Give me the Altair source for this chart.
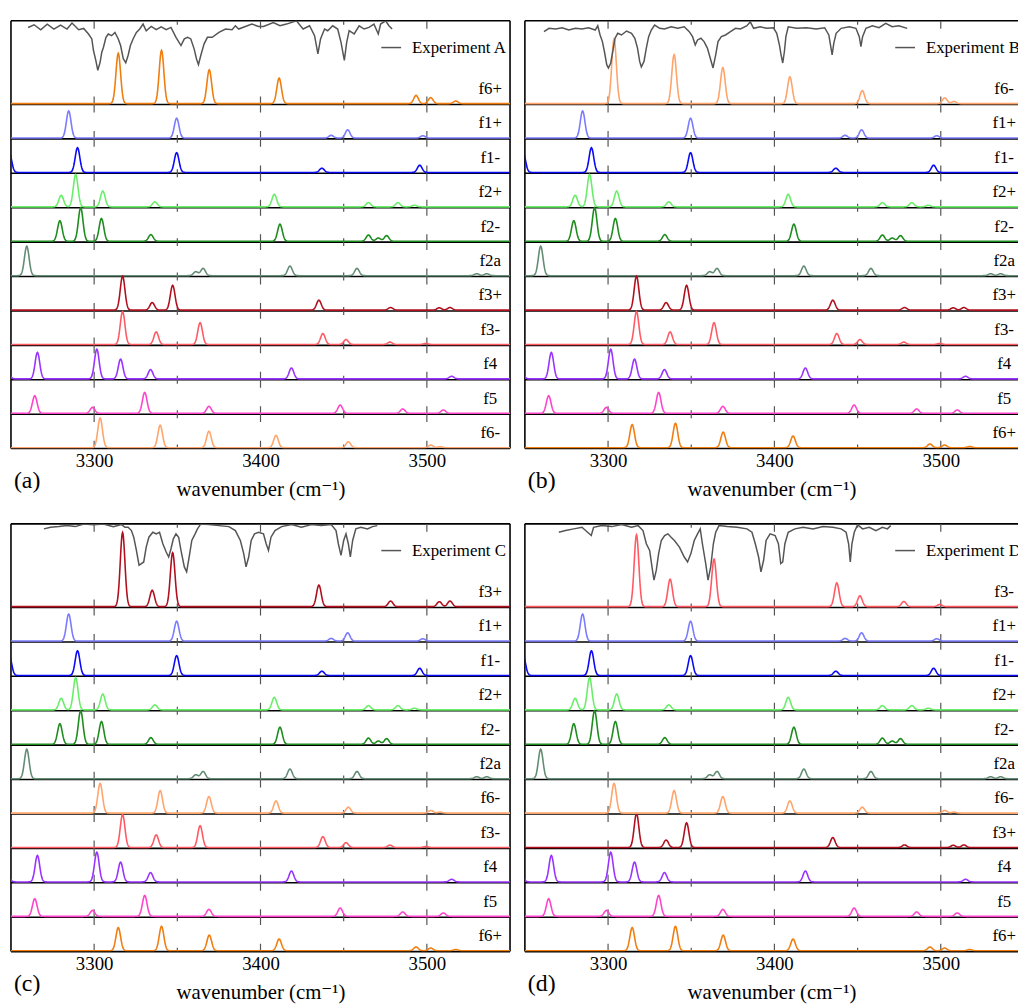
import altair as alt
import numpy as np
import pandas as pd

FONT = "Liberation Serif, Times New Roman, DejaVu Serif, serif"

# ---- spectra (peak positions in cm-1, intensities in arbitrary units) ----
SPECTRA = ["f6+", "f1+", "f1-", "f2+", "f2-", "f2a", "f3+", "f3-", "f4", "f5", "f6-"]
COLORS = ["#f07d0f", "#7b7bff", "#0a0af5", "#6aee6a", "#1e8c1e", "#638c74",
          "#b0101e", "#ff5a64", "#9933ff", "#ff44cc", "#ffa46b"]

PEAK_POS = {
    "f6+": [3314.5, 3340.5, 3369.2, 3411.2, 3493.5, 3502.3, 3517.4],
    "f1+": [3284.7, 3349.6, 3442.5, 3452.4, 3497.6],
    "f1-": [3249.0, 3290.0, 3349.6, 3436.9, 3495.7],
    "f2+": [3280.2, 3288.9, 3305.2, 3336.5, 3408.3, 3464.9, 3482.6, 3492.5],
    "f2-": [3279.4, 3291.9, 3304.4, 3334.1, 3411.7, 3464.9, 3470.8, 3475.8],
    "f2a": [3259.5, 3361.1, 3365.5, 3417.7, 3458.0, 3530.0, 3536.0],
    "f3+": [3317.1, 3334.9, 3347.2, 3435.1, 3478.2, 3507.5, 3513.9],
    "f3-": [3317.1, 3337.3, 3363.7, 3437.5, 3451.4, 3477.8, 3499.4],
    "f4":  [3248.0, 3265.9, 3301.6, 3315.9, 3333.9, 3418.6, 3514.9],
    "f5":  [3264.3, 3299.0, 3330.4, 3369.0, 3447.9, 3485.5, 3509.9],
    "f6-": [3303.6, 3339.7, 3369.0, 3409.3, 3452.8, 3502.4, 3507.9],
}
PEAK_INT = {
    "f6+": [23.3, 24.7, 15.7, 11.8, 3.8, 2.8, 1.2],
    "f1+": [27.3, 20.0, 2.7, 8.3, 2.3],
    "f1-": [20.0, 25.0, 20.0, 4.3, 7.3],
    "f2+": [11.7, 32.7, 16.0, 5.0, 12.7, 4.3, 4.3, 1.7],
    "f2-": [20.7, 34.0, 23.0, 6.7, 17.3, 6.3, 3.3, 5.7],
    "f2a": [29.7, 4.0, 7.3, 9.7, 7.3, 2.0, 2.0],
    "f3+": [34.3, 7.6, 25.0, 10.0, 2.6, 2.3, 2.6],
    "f3-": [33.3, 12.7, 22.0, 11.0, 5.0, 2.4, 1.0],
    "f4":  [6.0, 26.7, 30.0, 20.0, 9.4, 11.0, 2.7],
    "f5":  [17.7, 6.0, 21.0, 7.0, 8.4, 4.4, 3.4],
    "f6-": [30.0, 22.7, 16.7, 12.4, 6.0, 2.7, 1.0],
}
LINE_SIGMA = 1.4  # gaussian broadening (cm-1)

# ---- panel orders (top row first) ----
ORDER_A = ["f6+", "f1+", "f1-", "f2+", "f2-", "f2a", "f3+", "f3-", "f4", "f5", "f6-"]
ORDER_B = ["f6-", "f1+", "f1-", "f2+", "f2-", "f2a", "f3+", "f3-", "f4", "f5", "f6+"]
ORDER_C = ["f3+", "f1+", "f1-", "f2+", "f2-", "f2a", "f6-", "f3-", "f4", "f5", "f6+"]
ORDER_D = ["f3-", "f1+", "f1-", "f2+", "f2-", "f2a", "f6-", "f3+", "f4", "f5", "f6+"]

# ---- experimental traces (wavenumber, signal in arbitrary units) ----
EXP_A_W = [3260.3,3263.9,3267.9,3271.8,3275.8,3279.8,3283.7,3286.7,3290.7,3293.7,
           3296.6,3298.6,3299.6,3301.0,3302.2,3303.6,3304.6,3305.6,3307.1,3308.5,
           3310.5,3312.5,3314.5,3315.9,3317.5,3319.0,3320.4,3321.8,3323.4,3325.4,
           3327.4,3329.4,3331.3,3334.3,3337.3,3340.3,3343.3,3346.2,3349.2,3352.2,
           3354.2,3356.2,3358.1,3360.1,3361.5,3362.7,3364.1,3366.1,3368.1,3371.0,
           3375.0,3379.0,3382.9,3384.9,3386.9,3390.9,3394.8,3398.8,3401.8,3407.7,
           3411.7,3415.6,3421.6,3425.6,3429.5,3432.5,3434.5,3436.1,3438.5,3440.4,
           3443.4,3446.4,3448.4,3450.4,3451.8,3453.3,3456.3,3459.3,3462.3,3465.2,
           3468.2,3470.8,3472.2,3475.2,3477.2,3479.1]
EXP_A_T = [77.8,80.5,75.5,81.2,76.2,80.2,76.2,82.2,75.5,76.8,
           71.2,66.2,54.5,44.5,34.5,42.8,52.8,57.8,67.8,71.2,
           69.5,72.8,66.2,59.5,46.2,42.2,49.5,59.5,66.2,72.8,
           76.2,81.2,74.5,78.8,75.5,78.5,75.5,77.8,67.8,59.5,
           66.2,67.8,66.2,56.2,46.2,40.2,49.5,61.2,67.8,67.8,
           72.8,76.2,75.5,79.5,76.2,78.8,81.2,78.8,78.8,82.8,
           79.5,81.2,84.5,76.2,79.5,69.5,51.2,66.2,76.2,74.5,
           79.5,76.2,62.8,44.5,62.8,74.5,71.2,79.5,76.2,77.8,
           81.2,71.2,81.2,84.5,79.5,76.2]

EXP_B_W = [3261.5,3264.5,3268.5,3272.4,3276.4,3280.4,3284.3,3288.3,3292.3,3293.8,
           3295.2,3296.6,3297.8,3299.2,3300.2,3301.6,3302.8,3304.2,3305.8,3308.1,
           3311.1,3314.1,3316.1,3317.7,3319.0,3320.0,3321.6,3323.0,3324.4,3326.0,
           3328.0,3331.0,3333.9,3337.9,3341.9,3345.8,3348.8,3350.8,3352.4,3353.8,
           3355.8,3357.7,3359.7,3361.7,3363.1,3364.7,3366.1,3368.1,3370.6,3373.6,
           3376.6,3379.6,3383.5,3385.5,3387.5,3391.5,3395.4,3399.4,3401.4,3403.0,
           3404.0,3405.0,3406.0,3406.9,3408.3,3413.3,3419.2,3425.2,3430.2,3432.7,
           3433.7,3434.7,3435.7,3437.1,3440.1,3445.0,3449.0,3451.0,3452.0,3453.0,
           3455.0,3458.9,3462.9,3466.9,3470.8,3474.8,3479.8]
EXP_B_T = [73.5,76.9,76.2,77.5,75.2,76.9,76.2,77.5,75.2,79.5,
           70.2,63.5,53.5,40.2,36.9,41.9,53.5,66.9,71.9,70.2,
           74.2,71.9,66.9,56.9,43.5,37.9,43.5,56.9,68.5,75.2,
           80.2,76.9,76.2,78.5,76.9,78.5,73.5,68.5,60.2,65.2,
           66.9,63.5,56.9,45.2,36.9,50.2,63.5,68.5,70.2,73.5,
           76.9,76.2,79.5,83.5,76.9,78.5,76.9,77.5,71.9,60.2,
           50.2,41.9,53.5,68.5,78.5,76.9,77.5,76.2,77.5,70.2,
           60.2,50.2,61.9,71.9,76.9,78.5,76.9,68.5,58.5,68.5,
           76.9,79.5,77.5,81.9,78.5,79.5,76.9]

EXP_C_W = [3269.8,3273.8,3278.8,3283.7,3288.7,3293.7,3299.6,3305.6,3311.5,3316.5,
           3318.5,3320.4,3322.4,3323.8,3325.4,3327.0,3328.4,3329.8,3331.3,3332.9,
           3335.3,3337.3,3339.3,3341.3,3343.3,3344.8,3346.2,3347.6,3349.2,3350.8,
           3352.2,3354.2,3355.6,3357.1,3358.7,3360.7,3362.1,3364.1,3369.0,3375.0,
           3381.0,3384.9,3387.9,3389.9,3391.3,3392.9,3394.4,3396.4,3398.8,3401.8,
           3403.4,3404.8,3406.3,3408.7,3412.7,3418.7,3424.6,3430.6,3436.5,3442.5,
           3445.4,3446.8,3448.4,3450.0,3451.4,3452.8,3454.0,3455.4,3457.3,3460.3,
           3464.3,3467.3,3470.2]
EXP_C_T = [79.4,81.0,81.7,82.7,81.7,84.4,83.7,84.4,81.7,83.7,
           81.0,81.0,77.7,71.0,57.7,42.7,44.4,46.0,61.0,71.0,
           76.0,74.4,76.0,64.4,56.0,51.0,59.4,69.4,74.4,71.0,
           57.7,41.0,36.0,51.0,67.7,74.4,79.4,84.4,83.7,82.7,
           81.7,77.7,67.7,54.4,41.0,51.0,67.7,74.4,76.0,74.4,
           64.4,57.7,71.0,77.7,81.7,83.7,81.0,83.7,82.7,83.7,
           77.7,64.4,52.7,67.7,74.4,64.4,51.0,67.7,79.4,81.0,
           79.4,81.7,82.7]

EXP_D_W = [3270.4,3274.4,3279.4,3284.3,3289.9,3291.3,3296.2,3302.2,3308.1,3314.1,
           3318.1,3321.0,3323.0,3325.0,3326.4,3327.6,3329.0,3330.4,3332.0,3334.0,
           3336.0,3337.9,3339.9,3342.9,3345.8,3347.8,3349.8,3351.8,3353.8,3355.4,
           3356.7,3358.7,3360.1,3361.7,3363.3,3364.7,3366.7,3371.6,3377.6,3383.5,
           3386.5,3388.5,3390.5,3391.9,3393.5,3395.0,3397.4,3400.4,3402.4,3403.8,
           3405.0,3406.3,3408.3,3412.3,3417.3,3423.2,3429.2,3435.1,3440.1,3443.1,
           3444.6,3445.6,3446.6,3448.0,3450.0,3453.0,3457.0,3461.0,3464.9,3467.9,
           3469.9]
EXP_D_T = [76.0,77.7,79.4,81.0,72.7,81.0,82.7,81.7,83.7,81.0,
           82.7,77.7,64.4,57.7,41.0,27.7,37.7,54.4,67.7,72.7,
           74.4,71.0,67.7,61.0,51.0,46.0,54.4,67.7,74.4,79.4,
           64.4,44.4,27.7,41.0,64.4,76.0,82.7,81.7,81.0,79.4,
           76.0,64.4,51.0,36.0,47.7,67.7,74.4,72.7,64.4,44.4,
           46.0,64.4,76.0,79.4,81.0,79.4,81.7,81.0,79.4,76.0,
           64.4,46.0,64.4,76.0,83.7,79.4,81.0,77.7,81.0,79.4,
           82.7]

TICK_LABELS = [3300, 3400, 3500]
MINOR_TICKS = [3350, 3450]
X_MIN, X_MAX = 3250, 3550
X_TITLE = "wavenumber (cm\u207b\u00b9)"

# ---- layout constants ----
PANEL_H = 432
ROW_PX = 34.75
Y_TOP = PANEL_H / ROW_PX
TOP_SCALE = 2.18
PX_PER_CM = 504 / (X_MAX - X_MIN)

# ---- broadened spectra table ----
rows = []
for name in SPECTRA:
    pos = np.array(PEAK_POS[name])
    inten = np.array(PEAK_INT[name])
    grid = list(np.arange(3240, 3561, 4.0))
    for p in pos:
        grid += list(p + np.arange(-7, 7.01, 0.25))
    xs = np.unique(np.round(grid, 2))
    ys = (inten[None, :] * np.exp(-0.5 * ((xs[:, None] - pos[None, :]) / LINE_SIGMA) ** 2)).sum(axis=1)
    for xv, yv in zip(xs, ys):
        rows.append((name, float(xv), round(float(yv), 3)))
spec_df = pd.DataFrame(rows, columns=["spec", "x", "I"])

# ---- axis ticks (inward, at every row boundary) ----
bounds = list(range(11)) + [Y_TOP]
tick_rows = []
for tx, L in [(t, 8 / ROW_PX) for t in TICK_LABELS] + [(t, 4 / ROW_PX) for t in MINOR_TICKS]:
    for b in bounds:
        tick_rows.append((tx, max(0.0, b - L), min(Y_TOP, b + L)))
tick_df = pd.DataFrame(tick_rows, columns=["x", "y1", "y2"])
sep_df = pd.DataFrame({"yb": bounds})

XAXIS = alt.Axis(values=TICK_LABELS, ticks=False, domain=False, grid=False,
                 labelFontSize=19, labelFont=FONT, labelColor="black", labelPadding=3,
                 labelFlush=False, format="d",
                 title=X_TITLE, titleFontSize=21, titleFont=FONT, titleFontWeight="normal",
                 titleColor="black", titlePadding=8)


def panel(order, ew, et, exp_name, tag, width, right_border):
    xmax = X_MIN + width / PX_PER_CM
    xs = alt.Scale(domain=[X_MIN, xmax], nice=False, zero=False)
    ys = alt.Scale(domain=[0, Y_TOP], nice=False, zero=False)
    X = alt.X("x:Q", scale=xs, axis=XAXIS)

    lut = pd.DataFrame({"spec": order,
                        "off": [10 - i for i in range(11)],
                        "k": [TOP_SCALE / ROW_PX] + [1 / ROW_PX] * 10})
    lab_df = pd.DataFrame({"lab": order, "ly": [10 - i + 0.45 for i in range(11)]})
    exp_df = pd.DataFrame({"x": ew, "T": et})

    seps = alt.Chart(sep_df).mark_rule(color="black", strokeWidth=1.6).encode(
        y=alt.Y("yb:Q", scale=ys, axis=None))
    edges = [X_MIN] + ([X_MAX] if right_border else [])
    frame = alt.Chart(pd.DataFrame({"x": edges})).mark_rule(color="black", strokeWidth=1.6).encode(x=X)
    ticks = alt.Chart(tick_df).mark_rule(color="#555555", strokeWidth=1.2, clip=True).encode(
        x=X, y=alt.Y("y1:Q", scale=ys, axis=None), y2="y2:Q")
    spectra = alt.Chart(spec_df).transform_lookup(
        lookup="spec", from_=alt.LookupData(data=lut, key="spec", fields=["off", "k"])
    ).transform_calculate(
        yy="datum.off + 0.025 + datum.I * datum.k"
    ).mark_line(strokeWidth=1.6, clip=True).encode(
        x=X, y=alt.Y("yy:Q", scale=ys, axis=None),
        color=alt.Color("spec:N", scale=alt.Scale(domain=SPECTRA, range=COLORS), legend=None))
    exp = alt.Chart(exp_df).transform_calculate(
        yy="10 + datum.T / %f" % ROW_PX
    ).mark_line(color="#555555", strokeWidth=1.5, clip=True).encode(
        x=X, y=alt.Y("yy:Q", scale=ys, axis=None))
    labels = alt.Chart(lab_df).mark_text(font=FONT, fontSize=17, align="center",
                                         baseline="middle", color="black", clip=True).encode(
        x=alt.value(484), y=alt.Y("ly:Q", scale=ys, axis=None), text="lab:N")
    leg_df = pd.DataFrame({"t": [exp_name]})
    leg_line = alt.Chart(leg_df).mark_rule(color="#555555", strokeWidth=1.5).encode(
        x=alt.value(374), x2=alt.value(394), y=alt.value(27))
    leg_text = alt.Chart(leg_df).mark_text(font=FONT, fontSize=17, align="left",
                                           baseline="middle", color="black", clip=True).encode(
        x=alt.value(405), y=alt.value(27), text="t:N")
    tag_text = alt.Chart(pd.DataFrame({"t": [tag]})).mark_text(
        font=FONT, fontSize=24, align="left", baseline="middle", color="black").encode(
        x=alt.value(3), y=alt.value(PANEL_H + 33), text="t:N")

    return alt.layer(seps, ticks, frame, spectra, exp, labels, leg_line, leg_text, tag_text
                     ).properties(width=width, height=PANEL_H)


pa = panel(ORDER_A, EXP_A_W, EXP_A_T, "Experiment A", "(a)", 504, True)
pb = panel(ORDER_B, EXP_B_W, EXP_B_T, "Experiment B", "(b)", 498, False)
pc = panel(ORDER_C, EXP_C_W, EXP_C_T, "Experiment C", "(c)", 504, True)
pd_ = panel(ORDER_D, EXP_D_W, EXP_D_T, "Experiment D", "(d)", 498, False)

chart = alt.concat(pa, pb, pc, pd_, columns=2, spacing={"row": 76, "column": 15}, bounds="flush"
                   ).properties(padding={"left": 2, "top": 7, "right": 0, "bottom": 0}
                   ).configure(font=FONT).configure_view(strokeWidth=0)

chart.save("out.html", embed_options={"renderer": "svg", "actions": False})
